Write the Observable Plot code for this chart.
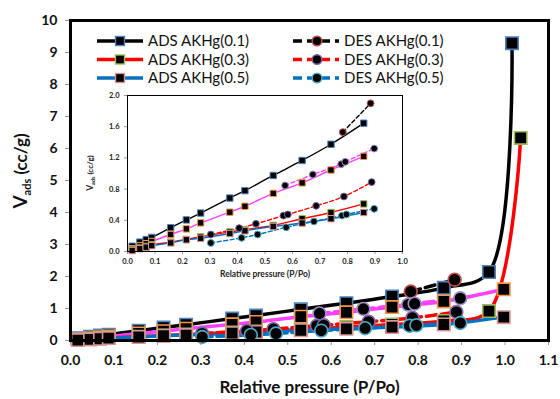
<!DOCTYPE html>
<html><head><meta charset="utf-8">
<script src="https://cdn.jsdelivr.net/npm/d3@7"></script>
<script src="https://cdn.jsdelivr.net/npm/@observablehq/plot@0.6"></script>
<style>
body{margin:0;background:#fff}
#wrap{position:relative;width:560px;height:399px;font-family:Lato,"Open Sans",sans-serif}
#wrap svg{display:block}
#inset{position:absolute;left:80px;top:90px}
#legend{position:absolute;left:0;top:0}
</style></head><body><div id="wrap"></div>
<script>
// ---------- data ----------
const ads01P = [0.017,0.045,0.068,0.088,0.157,0.214,0.266,0.372,0.427,0.530,0.635,0.740,0.859,0.963,1.016];
const ads01V = [0.068,0.120,0.154,0.180,0.305,0.405,0.493,0.685,0.780,0.975,1.167,1.375,1.645,2.14,9.29];
const adsMP  = [0.017,0.045,0.068,0.088,0.157,0.214,0.266,0.372,0.427,0.530,0.635,0.740,0.859,0.997];
const adsMV  = [0.035,0.073,0.100,0.128,0.218,0.290,0.367,0.504,0.580,0.745,0.880,1.045,1.220,1.60];
const ads03P = [0.017,0.045,0.068,0.088,0.157,0.214,0.266,0.372,0.427,0.530,0.635,0.740,0.859,0.963,1.036];
const ads03V = [0.020,0.045,0.065,0.085,0.120,0.155,0.190,0.250,0.280,0.335,0.420,0.500,0.610,0.92,6.33];
const ads05P = [0.017,0.045,0.068,0.088,0.157,0.214,0.266,0.372,0.427,0.530,0.635,0.740,0.859,0.997];
const ads05V = [0.012,0.035,0.055,0.075,0.110,0.150,0.170,0.230,0.265,0.320,0.365,0.420,0.500,0.73];
const des01P = [0.783,0.884];
const des01V = [1.53,1.90];
const desMP  = [0.573,0.674,0.777,0.792,0.897];
const desMV  = [0.846,0.987,1.12,1.15,1.32];
const des03P = [0.303,0.406,0.467,0.567,0.583,0.686,0.787,0.888];
const des03V = [0.218,0.300,0.355,0.460,0.475,0.585,0.705,0.890];
const des05P = [0.303,0.415,0.473,0.577,0.678,0.780,0.796,0.897];
const des05V = [0.110,0.175,0.218,0.310,0.385,0.460,0.475,0.547];

const legendLabels = ["ADS AKHg(0.1)","ADS AKHg(0.3)","ADS AKHg(0.5)","DES AKHg(0.1)","DES AKHg(0.3)","DES AKHg(0.5)"];
const mainXTicks = [0,0.1,0.2,0.3,0.4,0.5,0.6,0.7,0.8,0.9,1.0,1.1];
const mainYTicks = [0,1,2,3,4,5,6,7,8,9,10];
const insetXTicks = [0,0.1,0.2,0.3,0.4,0.5,0.6,0.7,0.8,0.9,1.0];
const insetYTicks = [0,0.4,0.8,1.2,1.6,2.0];
const xLabel = "Relative pressure (P/Po)";

// ---------- styling ----------
const series = [
  {P:ads01P,V:ads01V,line:"#000000",edge:"#4f81bd",sym:"square",dash:false},
  {P:adsMP, V:adsMV, line:"#ff40ff",edge:"#f79646",sym:"square",dash:false},
  {P:ads03P,V:ads03V,line:"#ff0000",edge:"#9bbb59",sym:"square",dash:false},
  {P:ads05P,V:ads05V,line:"#0070c0",edge:"#d99694",sym:"square",dash:false},
  {P:des01P,V:des01V,line:"#000000",edge:"#c0504d",sym:"circle",dash:true},
  {P:desMP, V:desMV, line:"#ff40ff",edge:"#9c8fc9",sym:"circle",dash:true},
  {P:des03P,V:des03V,line:"#ff0000",edge:"#8064a2",sym:"circle",dash:true},
  {P:des05P,V:des05V,line:"#0070c0",edge:"#4bacc6",sym:"circle",dash:true}
];
const rows = s => s.P.map((p,i)=>({p, v:s.V[i]}));
const FONT = 'Lato,"Open Sans",sans-serif';

// ---------- main chart ----------
const mainMarks = [];
for (const s of series) mainMarks.push(Plot.line(rows(s),{x:"p",y:"v",stroke:s.line,strokeWidth:3.5,curve:"catmull-rom",strokeDasharray:s.dash?"10,5":null}));
for (const s of series) mainMarks.push(Plot.dot(rows(s),{x:"p",y:"v",symbol:s.sym,r:s.sym==="square"?7:6.4,fill:"#000",stroke:s.edge,strokeWidth:1.6}));

const main = Plot.plot({
  width:560, height:399, marginLeft:70, marginRight:12, marginTop:20, marginBottom:59,
  style:{fontFamily:FONT, background:"transparent", overflow:"visible"},
  x:{domain:[0,1.1]}, y:{domain:[0,10]},
  marks:[
    ...mainMarks,
    Plot.axisX({ticks:mainXTicks, tickFormat:d=>d.toFixed(1), tickSize:5, tickPadding:10, stroke:"#999", fill:"#111", fontSize:14, fontWeight:"bold", label:null}),
    Plot.axisY({ticks:mainYTicks, tickFormat:d=>String(d), tickSize:5, tickPadding:8, stroke:"#999", fill:"#111", fontSize:14, fontWeight:"bold", label:null}),
    Plot.frame({stroke:"#000", strokeWidth:3}),
    Plot.text([xLabel],{frameAnchor:"bottom", dy:52, fontSize:17, fontWeight:"bold", fill:"#111"})
  ]
});
document.getElementById("wrap").appendChild(main);
const msvg = d3.select(main);
const yl = msvg.append("text").attr("transform","translate(27,171) rotate(-90)").attr("text-anchor","middle")
  .attr("font-family",FONT).attr("font-weight","bold").attr("fill","#111");
yl.append("tspan").attr("font-size",19).text("V");
yl.append("tspan").attr("font-size",11).attr("dy",4).text("ads");
yl.append("tspan").attr("font-size",17).attr("dy",-4).text(" (cc/g)");

// ---------- inset ----------
const insetMarks = [];
const inRange = s => rows(s).filter(d=>d.p<0.95);
for (const s of series) insetMarks.push(Plot.line(inRange(s),{x:"p",y:"v",stroke:s.line,strokeWidth:1.4,curve:"catmull-rom",strokeDasharray:s.dash?"4,2.5":null}));
for (const s of series) insetMarks.push(Plot.dot(inRange(s),{x:"p",y:"v",symbol:s.sym,r:s.sym==="square"?3.6:3.4,fill:"#000",stroke:s.edge,strokeWidth:1}));
const inset = Plot.plot({
  width:327, height:191, marginLeft:47, marginRight:5, marginTop:5, marginBottom:30,
  style:{fontFamily:FONT, background:"transparent", overflow:"visible"},
  x:{domain:[0,1.0]}, y:{domain:[0,2.0]},
  marks:[
    ...insetMarks,
    Plot.axisX({ticks:insetXTicks, tickFormat:d=>d.toFixed(1), tickSize:3, tickPadding:4, stroke:"#999", fill:"#222", fontSize:7.5, fontWeight:"bold", label:null}),
    Plot.axisY({ticks:insetYTicks, tickFormat:d=>d.toFixed(1), tickSize:3, tickPadding:5, stroke:"#999", fill:"#222", fontSize:7.5, fontWeight:"bold", label:null}),
    Plot.frame({stroke:"#000", strokeWidth:1}),
    Plot.text([xLabel],{frameAnchor:"bottom", dy:25, fontSize:8.5, fontWeight:"bold", fill:"#222"})
  ]
});
inset.id = "inset";
document.getElementById("wrap").appendChild(inset);
const isvg = d3.select(inset);
const iyl = isvg.append("text").attr("transform","translate(13,83) rotate(-90)").attr("text-anchor","middle")
  .attr("font-family",FONT).attr("font-weight","bold").attr("fill","#222");
iyl.append("tspan").attr("font-size",8.5).text("V");
iyl.append("tspan").attr("font-size",5.5).attr("dy",2).text("ads");
iyl.append("tspan").attr("font-size",8).attr("dy",-2).text(" (cc/g)");

// ---------- legend ----------
const leg = d3.select("#wrap").append("svg").attr("id","legend").attr("width",560).attr("height",110);
const legItems = [
  {s:series[0],x:97,y:41},{s:series[2],x:97,y:59.5},{s:series[3],x:97,y:78},
  {s:series[4],x:293,y:41},{s:series[6],x:293,y:59.5},{s:series[7],x:293,y:78}
];
legItems.forEach((it,i)=>{
  const g = leg.append("g").attr("transform",`translate(${it.x},${it.y})`);
  g.append("line").attr("x1",0).attr("x2",46).attr("stroke",it.s.line).attr("stroke-width",3.5)
    .attr("stroke-dasharray",it.s.dash?"9,5":null);
  if (it.s.sym==="square") g.append("rect").attr("x",18.5).attr("y",-4.5).attr("width",9).attr("height",9).attr("fill","#000").attr("stroke",it.s.edge).attr("stroke-width",1.4);
  else g.append("circle").attr("cx",24).attr("r",4.8).attr("fill","#000").attr("stroke",it.s.edge).attr("stroke-width",1.4);
  g.append("text").attr("x",51).attr("dy","0.35em").attr("font-family",FONT).attr("font-size",15).attr("fill","#111").text(legendLabels[i]);
});
</script></body></html>
